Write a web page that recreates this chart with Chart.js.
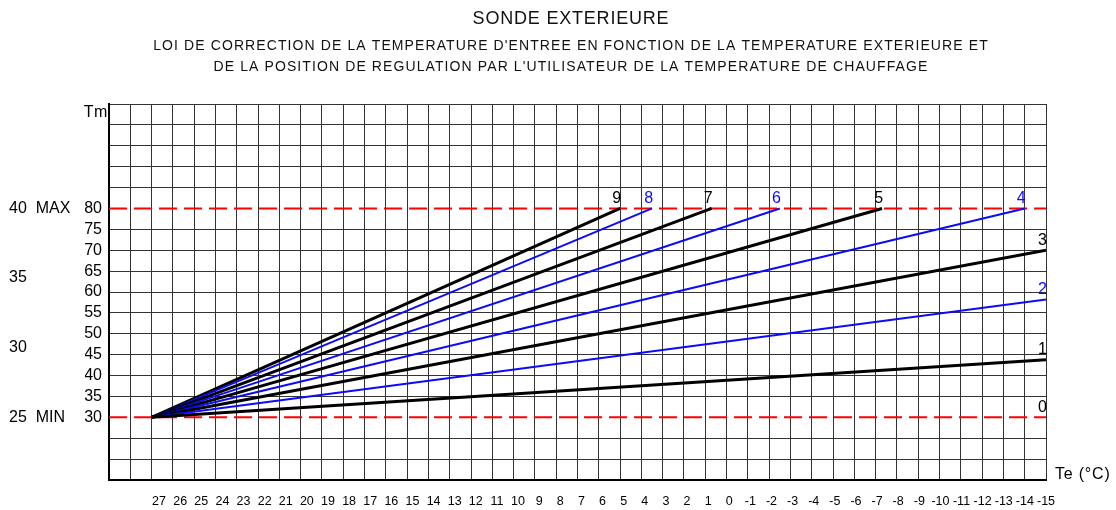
<!DOCTYPE html>
<html>
<head>
<meta charset="utf-8">
<title>Sonde extérieure</title>
<script src="https://cdn.jsdelivr.net/npm/chart.js@4.4.1/dist/chart.umd.min.js"></script>
<style>
  html, body { margin: 0; padding: 0; background: #ffffff; }
  #wrap { width: 1116px; height: 510px; }
</style>
</head>
<body>
<div id="wrap"><canvas id="c" width="1116" height="510"></canvas></div>
<script>
// ---- texts ----
const titleText = 'SONDE EXTERIEURE';
const subtitleLines = [
  "LOI DE CORRECTION DE LA TEMPERATURE D'ENTREE EN FONCTION DE LA TEMPERATURE EXTERIEURE ET",
  "DE LA POSITION DE REGULATION PAR L'UTILISATEUR DE LA TEMPERATURE DE CHAUFFAGE"
];
const yAxisName = 'Tm';
const xAxisName = 'Te (°C)';

// ---- heating curves: position 0..9, all leaving from the same foot point ----
const curveNames = ['0', '1', '2', '3', '4', '5', '6', '7', '8', '9'];
const curveStartTe = 27;
const curveStartTm = 30;
const curveEndTe = [-15, -15, -15, -15, -14, -7.3, -2.5, 0.7, 3.5, 5];
const curveEndTm = [30, 43.8, 58.2, 70, 80, 80, 80, 80, 80, 80];

// ---- regulation limits (MIN / MAX water temperature) ----
const tmLimitMin = 30;
const tmLimitMax = 80;

// ---- axes ----
const teLeft = 29;      // outdoor temperature at the left edge
const teRight = -15;    // outdoor temperature at the right edge
const tmBottom = 15;
const tmTop = 105;
const tmTicks = [30, 35, 40, 45, 50, 55, 60, 65, 70, 75, 80];
const roomTicks = [25, 30, 35, 40];
const roomTickNames = ['25  MIN', '30', '35', '40  MAX'];
const teTicks = [27, 26, 25, 24, 23, 22, 21, 20, 19, 18, 17, 16, 15, 14, 13, 12, 11, 10, 9, 8, 7, 6,
                 5, 4, 3, 2, 1, 0, -1, -2, -3, -4, -5, -6, -7, -8, -9, -10, -11, -12, -13, -14, -15];

// room setting scale: 25 ↔ Tm 30, 40 ↔ Tm 80
const roomAt = tm => roomTicks[0] + (tm - tmLimitMin) * (roomTicks[3] - roomTicks[0]) / (tmLimitMax - tmLimitMin);

const FONT = "'Liberation Sans', Arial, Helvetica, sans-serif";
Chart.defaults.font.family = FONT;
Chart.defaults.color = '#000';

const BLACK = '#000000';
const BLUE = '#0a0aff';
const RED = '#ff0000';
const GRID = '#333333';

const curveColor = i => (i % 2 === 0 && i > 0) ? BLUE : BLACK;

const curveSets = curveNames.map((name, i) => ({
  label: name,
  data: [{ x: curveStartTe, y: curveStartTm }, { x: curveEndTe[i], y: curveEndTm[i] }],
  borderColor: curveColor(i),
  borderWidth: curveColor(i) === BLUE ? 2 : 3,
  showLine: i > 0,          // position 0 stays on the MIN line
  pointRadius: 0,
  order: 0,
  isCurve: true
}));

const limitSets = [tmLimitMax, tmLimitMin].map(v => ({
  label: v === tmLimitMax ? 'MAX' : 'MIN',
  data: [{ x: teLeft, y: v }, { x: teRight, y: v }],
  borderColor: RED,
  borderWidth: 2,
  borderDash: [18, 7],
  pointRadius: 0,
  order: 1
}));

// texts around the grid and the position numbers at the end of each curve
const annotations = {
  id: 'annotations',
  afterDatasetsDraw(chart) {
    const ctx = chart.ctx;
    ctx.save();
    ctx.font = '16px ' + FONT;
    ctx.textAlign = 'right';
    ctx.textBaseline = 'alphabetic';
    chart.data.datasets.forEach((ds, i) => {
      if (!ds.isCurve) return;
      const meta = chart.getDatasetMeta(i);
      const end = meta.data[meta.data.length - 1];
      ctx.fillStyle = ds.borderColor;
      ctx.fillText(ds.label, end.x + 1, end.y - 5.5);
    });
    ctx.restore();
  },
  afterDraw(chart) {
    const ctx = chart.ctx;
    const area = chart.chartArea;
    const cx = 571;
    ctx.save();
    ctx.fillStyle = '#111';
    ctx.textAlign = 'center';
    ctx.textBaseline = 'middle';
    ctx.font = '18px ' + FONT;
    ctx.letterSpacing = '0.8px';
    ctx.fillText(titleText, cx, 19);
    ctx.font = '14px ' + FONT;
    ctx.letterSpacing = '1.1px';
    ctx.fillText(subtitleLines[0], cx, 46);
    ctx.fillText(subtitleLines[1], cx, 67);

    ctx.fillStyle = '#000';
    ctx.font = '16px ' + FONT;
    ctx.letterSpacing = '0.6px';
    ctx.textAlign = 'right';
    ctx.textBaseline = 'alphabetic';
    ctx.fillText(yAxisName, area.left - 1, area.top + 13);
    ctx.textAlign = 'left';
    ctx.letterSpacing = '0.8px';
    ctx.fillText(xAxisName, area.right + 9, area.bottom - 1);
    ctx.restore();
  }
};

const noPad = s => { s.paddingTop = 0; s.paddingBottom = 0; };

new Chart(document.getElementById('c'), {
  type: 'line',
  data: { datasets: [...curveSets, ...limitSets] },
  options: {
    responsive: false,
    devicePixelRatio: 1,
    animation: false,
    layout: { padding: { top: 104, left: 9, right: 70, bottom: 0 } },
    plugins: {
      legend: { display: false },
      tooltip: { enabled: false },
      title: { display: false }
    },
    scales: {
      x: {
        type: 'linear',
        reverse: true,
        min: teRight,
        max: teLeft,
        weight: 0,
        afterBuildTicks: s => {
          const t = [];
          for (let v = teRight; v <= teLeft; v++) t.push({ value: v });
          s.ticks = t;
        },
        afterFit: s => { s.height = 0; s.paddingLeft = 0; s.paddingRight = 0; },
        ticks: { display: false },
        grid: { color: GRID, lineWidth: 1, drawTicks: false },
        border: { display: true, color: BLACK, width: 2 }
      },
      xt: {
        type: 'linear',
        position: 'bottom',
        reverse: true,
        min: teRight,
        max: 29.37,
        weight: 1,
        afterBuildTicks: s => { s.ticks = teTicks.map(v => ({ value: v })); },
        afterFit: s => { s.height = 30; },
        ticks: {
          autoSkip: false,
          maxRotation: 0,
          minRotation: 0,
          padding: 14,
          font: { size: 12.5 },
          color: '#000',
          callback: v => String(v)
        },
        grid: { display: false, drawTicks: false },
        border: { display: false }
      },
      y: {
        type: 'linear',
        position: 'left',
        min: tmBottom,
        max: tmTop,
        weight: 0,
        afterBuildTicks: s => {
          const t = [];
          for (let v = tmBottom; v <= tmTop; v += 5) t.push({ value: v });
          s.ticks = t;
        },
        afterFit: s => { s.width = 24; noPad(s); },
        ticks: {
          autoSkip: false,
          padding: 7,
          font: { size: 16 },
          color: '#000',
          callback: v => tmTicks.includes(v) ? String(v) : ''
        },
        grid: {
          drawTicks: false,
          lineWidth: 1,
          color: c => (c.tick && (c.tick.value === tmLimitMin || c.tick.value === tmLimitMax)) ? 'rgba(0,0,0,0)' : GRID
        },
        border: { display: true, color: BLACK, width: 2 }
      },
      room: {
        type: 'linear',
        position: 'left',
        min: roomAt(tmBottom),
        max: roomAt(tmTop),
        weight: 1,
        afterBuildTicks: s => { s.ticks = roomTicks.map(v => ({ value: v })); },
        afterFit: s => { s.width = 76; noPad(s); },
        ticks: {
          autoSkip: false,
          crossAlign: 'far',
          padding: 0,
          font: { size: 16 },
          color: '#000',
          callback: v => roomTickNames[roomTicks.indexOf(v)]
        },
        grid: { display: false, drawTicks: false },
        border: { display: false }
      }
    }
  },
  plugins: [annotations]
});
</script>
</body>
</html>
